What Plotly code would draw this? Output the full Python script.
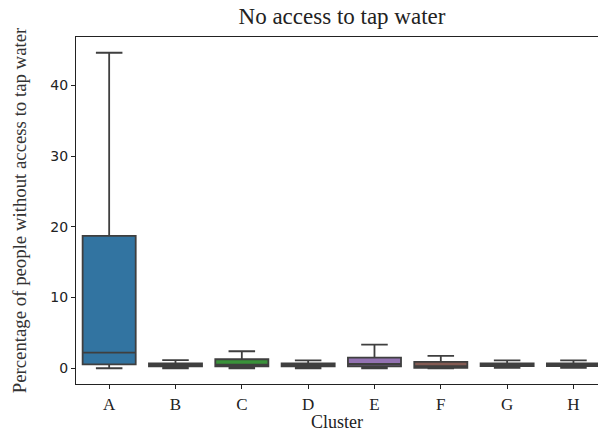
import plotly.graph_objects as go

clusters = ["A", "B", "C", "D", "E", "F", "G", "H"]
lower = [0.0, 0.0, 0.0, 0.0, 0.0, 0.0, 0.05, 0.05]
q1 = [0.55, 0.25, 0.28, 0.25, 0.28, 0.05, 0.3, 0.3]
median = [2.2, 0.45, 0.5, 0.45, 0.6, 0.3, 0.5, 0.5]
q3 = [18.7, 0.7, 1.27, 0.7, 1.5, 0.9, 0.7, 0.7]
upper = [44.6, 1.15, 2.4, 1.1, 3.35, 1.75, 1.1, 1.1]
colors = ["#3274a1", "#e1812c", "#3a923a", "#c03d3e", "#9372b2", "#845b53", "#d684bd", "#7f7f7f"]

edge = "#3f3f3f"
fig = go.Figure()
for i, c in enumerate(clusters):
    fig.add_trace(go.Box(
        x=[c], q1=[q1[i]], median=[median[i]], q3=[q3[i]],
        lowerfence=[lower[i]], upperfence=[upper[i]],
        fillcolor=colors[i], line=dict(color=edge, width=1.8),
        width=0.8, whiskerwidth=0.5, boxpoints=False, showlegend=False,
        hoverinfo="skip",
    ))

fig.update_layout(
    width=598, height=432,
    margin=dict(l=76, r=0, t=37, b=48),
    plot_bgcolor="white", paper_bgcolor="white",
    title=dict(text="No access to tap water", x=(342 - 76) / 522, xref="paper",
               xanchor="center", y=1 - 16 / 432, yanchor="middle", yref="container",
               font=dict(family="Liberation Serif", size=23, color="#222")),
    xaxis=dict(categoryorder="array", categoryarray=clusters,
               range=[-0.5, 7.37], showline=True, linecolor="#222", linewidth=1.2,
               mirror=True, ticks="outside", ticklen=4, tickcolor="#222",
               tickfont=dict(family="Liberation Serif", size=17, color="#222"),
               title=dict(text="Cluster", standoff=2,
                          font=dict(family="Liberation Serif", size=18, color="#222")),
               showgrid=False, zeroline=False),
    yaxis=dict(range=[-2.23, 46.83], showline=True, linecolor="#222", linewidth=1.2,
               ticks="outside", ticklen=4, tickcolor="#222", tickvals=[0, 10, 20, 30, 40],
               tickfont=dict(family="DejaVu Sans", size=14, color="#222"),
               title=dict(text="Percentage of people without access to tap water", standoff=18,
                          font=dict(family="Liberation Serif", size=18.8, color="#333")),
               showgrid=False, zeroline=False),
)

fig.write_html("out.html")
